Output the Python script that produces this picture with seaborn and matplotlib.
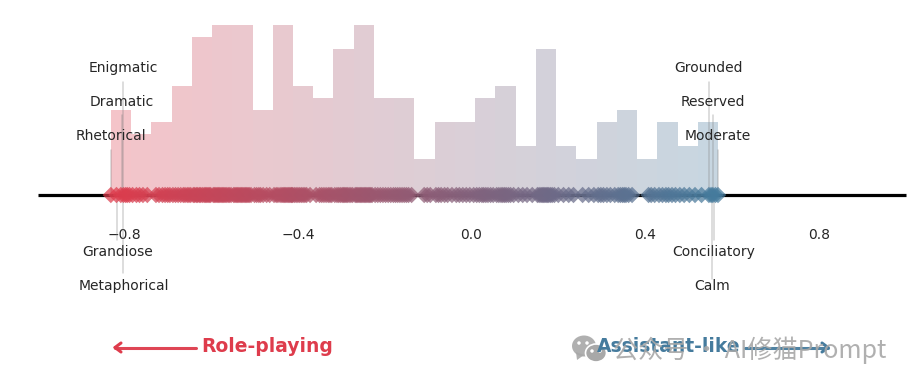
import matplotlib
matplotlib.use('Agg')
import matplotlib.pyplot as plt
from matplotlib.colors import LinearSegmentedColormap
from matplotlib.patches import Ellipse, Polygon
import numpy as np
import seaborn as sns

# persona scores, written out bin by bin
scores = [
    -0.831, -0.818, -0.808, -0.802, -0.797, -0.793, -0.788,
    -0.781, -0.772, -0.765, -0.757, -0.747,
    -0.727, -0.720, -0.712, -0.706, -0.700, -0.695,
    -0.688, -0.682, -0.676, -0.670, -0.664, -0.660, -0.655, -0.651, -0.647,
    -0.641, -0.638, -0.634, -0.631, -0.627, -0.624, -0.620, -0.616, -0.613, -0.610, -0.607, -0.604, -0.601,
    -0.595, -0.592, -0.589, -0.586, -0.583, -0.580, -0.577, -0.574, -0.571, -0.568, -0.565, -0.561, -0.558, -0.554,
    -0.548, -0.545, -0.542, -0.539, -0.536, -0.533, -0.530, -0.527, -0.524, -0.521, -0.518, -0.515, -0.512, -0.508,
    -0.500, -0.495, -0.490, -0.486, -0.480, -0.472, -0.465,
    -0.455, -0.450, -0.446, -0.441, -0.437, -0.434, -0.431, -0.428, -0.425, -0.422, -0.419, -0.416, -0.414, -0.412,
    -0.408, -0.404, -0.400, -0.396, -0.392, -0.388, -0.384, -0.380, -0.372,
    -0.358, -0.350, -0.345, -0.340, -0.335, -0.330, -0.326, -0.322,
    -0.315, -0.310, -0.306, -0.302, -0.298, -0.295, -0.292, -0.289, -0.286, -0.282, -0.278, -0.274,
    -0.268, -0.265, -0.262, -0.259, -0.256, -0.253, -0.250, -0.247, -0.244, -0.241, -0.238, -0.235, -0.232, -0.229,
    -0.222, -0.216, -0.210, -0.204, -0.198, -0.192, -0.186, -0.180,
    -0.175, -0.170, -0.165, -0.160, -0.155, -0.150, -0.145, -0.138,
    -0.109, -0.102, -0.095,
    -0.082, -0.076, -0.070, -0.062, -0.055, -0.045,
    -0.035, -0.028, -0.020, -0.012, -0.004, 0.005,
    0.012, 0.018, 0.024, 0.028, 0.033, 0.038, 0.044, 0.050,
    0.058, 0.063, 0.068, 0.072, 0.076, 0.080, 0.085, 0.090, 0.097,
    0.108, 0.118, 0.128, 0.140,
    0.152, 0.156, 0.160, 0.163, 0.166, 0.169, 0.172, 0.175, 0.178, 0.182, 0.186, 0.191,
    0.200, 0.212, 0.224, 0.235,
    0.256, 0.270, 0.282,
    0.292, 0.298, 0.304, 0.312, 0.320, 0.330,
    0.338, 0.343, 0.348, 0.352, 0.356, 0.362, 0.370,
    0.408, 0.414, 0.422,
    0.432, 0.440, 0.448, 0.454, 0.462, 0.470,
    0.480, 0.490, 0.502, 0.515,
    0.530, 0.547, 0.552, 0.556, 0.562, 0.568,
]

top_words = ['Enigmatic', 'Dramatic', 'Rhetorical', 'Grounded', 'Reserved', 'Moderate']
top_scores = [-0.802, -0.805, -0.831, 0.547, 0.556, 0.568]
bottom_words = ['Grandiose', 'Metaphorical', 'Conciliatory', 'Calm']
bottom_scores = [-0.816, -0.802, 0.558, 0.554]
x_ticks = [-0.8, -0.4, 0.0, 0.4, 0.8]

RED = '#de3c4c'
BLUE = '#457b9d'

sns.set_style('white')
plt.rcParams['font.family'] = ['DejaVu Sans', 'Noto Sans CJK SC']

W, H = 914, 387
fig = plt.figure(figsize=(W / 100, H / 100), dpi=100)
ax = fig.add_axes([37.5 / W, 1 - 195 / H, 868 / W, 170 / H])

cmap = LinearSegmentedColormap.from_list('persona', [RED, BLUE])
low, high = min(scores), max(scores)

sns.histplot(x=scores, bins=30, binrange=(low, high), linewidth=0, ax=ax)
for bar in ax.patches:
    mid = bar.get_x() + bar.get_width() / 2
    bar.set_facecolor(cmap((mid - low) / (high - low)))
    bar.set_alpha(0.3)
    bar.set_antialiased(False)

rug_colors = [cmap((s - low) / (high - low)) for s in scores]
sns.scatterplot(x=scores, y=[0] * len(scores), c=rug_colors, marker='D', s=70,
                alpha=0.72, linewidth=0, edgecolor='none', clip_on=False, zorder=5, ax=ax)

ax.set_xlim(-1.0, 1.0)
ax.set_ylim(0, 14)
ax.set_ylabel('')
ax.set_xticks(x_ticks)
ax.set_xticklabels(['\u22120.8', '\u22120.4', '0.0', '0.4', '0.8'], fontsize=10, color='#262626')
ax.set_yticks([])
ax.tick_params(axis='x', length=13, width=1.6, color='#222222', pad=11)
sns.despine(ax=ax, left=True)
ax.spines['bottom'].set_linewidth(2.3)
ax.spines['bottom'].set_color('black')
ax.spines['bottom'].set_capstyle('butt')

# labels alternate over three heights, each tied to the axis with a thin line
top_text_y = [10.45, 7.65, 4.85, 10.45, 7.65, 4.85]
top_line_y = [9.3, 6.6, 3.7, 9.3, 6.6, 3.7]
for word, s, ty, ly in zip(top_words, top_scores, top_text_y, top_line_y):
    ax.plot([s, s], [0, ly], color='gray', alpha=0.35, lw=1.1, zorder=3)
    ax.text(s, ty, word, ha='center', va='center', fontsize=10, color='#262626')

bottom_text_y = [-4.7, -7.5, -4.7, -7.5]
bottom_line_y = [-3.7, -6.4, -3.7, -6.9]
for word, s, ty, ly in zip(bottom_words, bottom_scores, bottom_text_y, bottom_line_y):
    ax.plot([s, s], [0, ly], color='gray', alpha=0.35, lw=1.1, clip_on=False, zorder=3)
    ax.text(s, ty, word, ha='center', va='center', fontsize=10, color='#262626')


def fx(px):
    return px / W


def fy(py):
    return 1 - py / H


def arrow(x0, x1, y, color):
    fig.add_artist(plt.Line2D([fx(x0), fx(x1)], [fy(y), fy(y)], color=color, lw=2.2, alpha=0.95))
    tip = -1 if x1 < x0 else 1
    for dy in (-4.5, 4.5):
        fig.add_artist(plt.Line2D([fx(x1), fx(x1 - tip * 6)], [fy(y), fy(y + dy)], color=color, lw=2.2))


arrow(196, 115, 347.5, RED)
fig.text(fx(201), fy(347), 'Role-playing', color=RED, fontsize=13.5, fontweight='bold', va='center')
arrow(745, 828, 347.5, BLUE)
fig.text(fx(597), fy(347), 'Assistant-like', color=BLUE, fontsize=13.5, fontweight='bold', va='center')

# gray account mark laid over the lower right corner
wm = '#a8a8a8'
fig.add_artist(Ellipse((fx(584), fy(346)), 24 / W, 21 / H, color=wm, alpha=0.9, lw=0))
fig.add_artist(Polygon([[fx(576), fy(352)], [fx(577), fy(360)], [fx(584), fy(355)]], color=wm, alpha=0.9, lw=0))
fig.add_artist(Ellipse((fx(596), fy(353)), 21 / W, 18 / H, facecolor=wm, edgecolor='white', lw=1.2))
for ex, ey in [(579, 343), (587, 343), (592, 351), (600, 351)]:
    fig.add_artist(Ellipse((fx(ex), fy(ey)), 3.5 / W, 3.5 / H, color='white', lw=0))
fig.text(fx(613), fy(350), '公众号 · AI修猫Prompt', color=wm, alpha=0.9, fontsize=18.1, va='center',
         family=['Noto Sans CJK SC', 'DejaVu Sans'])

fig.savefig('out.png', dpi=100)
